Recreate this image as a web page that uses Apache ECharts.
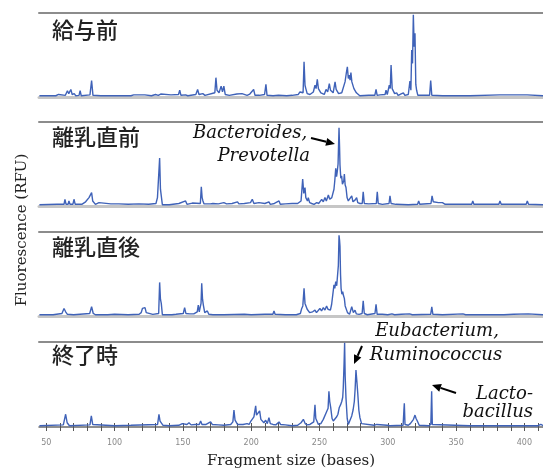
<!DOCTYPE html>
<html>
<head>
<meta charset="utf-8">
<script src="https://cdn.jsdelivr.net/npm/echarts@6/dist/echarts.min.js"></script>
<style>
  html, body { margin: 0; padding: 0; background: #fff; }
  #trflp { width: 543px; height: 474px; }
</style>
</head>
<body>
<div id="trflp"></div>
<script>
// panel titles (sampling times)
var panelNames = ['給与前', '離乳直前', '離乳直後', '終了時'];

// x axis: fragment size (bases)
var sizeLabels = [50, 100, 150, 200, 250, 300, 350, 400];
var sizeTicks = [50, 60, 70, 80, 90, 100, 110, 120, 130, 140, 150, 160, 170, 180, 190, 200,
    210, 220, 230, 240, 250, 260, 270, 280, 290, 300, 310, 320, 330, 340, 350, 360, 370,
    380, 390, 400, 410];

// traces: [fragment size, fluorescence (% of panel full scale)]
var trace1 = [[45,1.5],[57,1.5],[59,3],[60,1.5],[64,2],[65.5,7.5],[66.5,4],[68,9],[69,3],[70.5,4],[71.5,1.5],
    [74,2],[74.8,7.5],[75.6,1.5],[82,2.5],[83.2,19.5],[84.2,2],[90,1.5],[101,1.5],[102,3],[103,1.5],[112,1.5],
    [114,2.5],[115,1.5],[122.2,2.5],[123,1.5],[127,1.5],[130,3],[131.2,4],[132,2],[133.8,3.5],[134.6,1.5],
    [141.3,2.5],[142,1.5],[146.8,3],[147.7,8],[148.6,2],[152,2.5],[152.8,3.5],[153.6,1.5],[159.5,3],[160.8,9],
    [161.8,3],[164.6,4],[165.4,4],[166.2,2],[173.4,5],[174.2,23],[175,8],[176.5,5],[178,13],[179,6],[180,13],
    [181,3],[184,2],[189.5,3.5],[190.2,1.5],[193.3,4],[194,2],[197,2],[199,3.5],[201.8,9],[202.8,2],[206,2],
    [209.8,3],[210.8,15],[211.6,2],[216,1.5],[220,2],[226,1.5],[230,2],[234.5,3],[235.7,6],[238,5],[238.7,42],
    [239.4,14],[240,10],[241,4],[243,3],[245.5,6],[246.7,14],[247.5,10],[248.4,21],[249.2,10],[249.9,12],[251,5],
    [252.3,6],[253.5,3],[254.8,9],[256,6],[257.2,16],[258.1,8],[258.9,8],[260,5],[261.4,18],[262.2,9],[263,11],
    [264,4],[266.3,5],[267.5,7],[268.7,18],[269.6,28],[270.4,36],[271.1,22],[271.8,26],[272.4,20],[273,29],
    [273.7,18],[274.3,20],[275.2,10],[276,11],[277,5],[278.4,3],[279.5,1.5],[286,2],[290.5,2],[291.4,9],
    [292.2,2],[294.3,2.5],[295,1.5],[298,3],[298.7,8],[299.6,3],[301.1,14],[301.8,10],[302.4,38],[303.2,10],
    [304.1,12],[305,4],[306.5,5],[307.5,2],[309,3],[310,2],[311.4,5],[312.5,2],[315,3],[316.2,19],[316.9,8],
    [317.5,56],[318.1,40],[318.7,98],[319.3,60],[319.9,76],[320.5,15],[321.1,8],[322,2],[330.6,2],[331.4,19.5],
    [332.2,2],[340,1.5],[341,2.5],[342,1.5],[360,1.5],[381.8,2.5],[383,1.5],[402,2.5],[403,1.5],[414,1.5]];

var trace2 = [[45,1.5],[58,2],[59.3,4],[60.3,2],[63,2],[63.7,8],[64.5,2],[66,2],[66.6,6],[67.4,2],[69.5,2],
    [70.3,8],[71.2,2],[76,2],[78.8,5],[80,3],[81.3,10],[82.3,8],[83.2,16],[84,6],[85,4],[86,2],[88.6,4],[89.5,2],
    [97.3,2.5],[98,1.5],[103.2,2.5],[104,1.5],[110,2],[117.9,2.5],[125,2],[130.3,3],[131.4,10],[132.4,12],
    [133,57],[133.6,20],[134.2,12],[135,1.5],[140,1.5],[147.1,3],[148,2],[152,6],[153,2],[156.9,3.5],[158,2],
    [162.8,3],[163.5,23],[164.1,10],[164.7,6],[165.5,2.5],[170,2.5],[172,3],[176,2.5],[180,4],[182,2.5],[186,3],
    [190,5],[191,2.5],[195,3],[199.5,4],[200.8,8],[202,3],[205.7,4],[206.5,2],[210,3],[213,5],[214,2],[217,3],
    [220.4,6],[221.3,2],[225,2.5],[230,3],[234,3],[236.5,6],[237.7,32],[238.5,15],[239.4,22],[240,10],
    [240.6,8],[241.2,6],[241.8,10],[242.8,4],[244.3,3],[246,2],[248,4],[249.5,3],[251.6,8],[252.8,5],[254,10],
    [255,6],[256.5,13],[257.5,8],[259,10],[259.8,8],[260.6,20],[261.2,30],[261.9,45],[262.5,35],[263,41],
    [263.6,50],[264.3,93],[264.7,70],[265,49],[265.6,33],[266.2,36],[266.8,26],[267.4,28],[267.8,30],[268.2,38],
    [268.8,25],[269.4,22],[270.2,10],[271.1,6],[272.5,4],[273.6,12],[274.5,5],[276,7],[276.6,5],[277.2,10],
    [278,4],[279.6,3],[281.3,3],[282,17],[282.8,3],[286,2.5],[291.6,3],[292.3,17],[293,3],[296,2],[300.9,3],
    [301.6,12],[302.4,3],[306,2],[315,1.5],[321.8,2],[322.6,6],[323.4,2],[331.6,3],[332.4,12],[333.3,5],[337,4],
    [340,4],[342,2],[350,2],[361.4,2],[362.2,6],[363,2],[370,2],[381.3,2],[382.1,6],[383,2],[393.5,2],[394.3,4],
    [395,2],[401.3,2],[402.1,6],[403,2],[414,1.5]];

var trace3 = [[45,1.5],[55,1.5],[61.5,3],[63,9],[64.2,5],[65.5,2],[70,1.5],[81.8,3],[83.2,11],[84.4,3],[86,1.5],
    [95,1.5],[100,2],[110,1.5],[118,2],[119.5,4],[120.4,9],[121.3,7],[122.3,10],[123.2,4],[124.2,2],[128,2],
    [132.3,3],[133,40],[133.6,20],[134.2,15],[135,1.5],[142,1.5],[145,2],[150.3,3],[151.3,10],[152.2,3],
    [155,2.5],[158,2.5],[160.5,5],[161.3,13],[162,5],[162.5,7],[163.3,15],[163.8,39],[164.4,20],[165,13],[166,4],
    [167.9,6],[169,2],[172,1.5],[180,1.5],[195,2],[200,1.5],[210,2],[215.9,2],[216.7,6],[217.5,2],[225,1.5],
    [233,1.5],[236,3],[237,9],[237.8,12],[238.7,33],[239.4,15],[240.1,15],[241,8],[241.8,9],[242.8,4],[244,3],
    [245,5],[246.7,7],[247.8,4],[249,5],[250.3,9],[251.5,6],[252.8,10],[254,7],[255.2,12],[256.2,8],[257.2,10],
    [258,7],[258.9,14],[259.8,15],[260.6,37],[261.2,33],[261.9,41],[262.6,36],[263.3,35],[263.8,60],[264.3,96],
    [264.7,90],[265,83],[265.4,50],[265.8,33],[266.4,26],[267,29],[267.6,24],[268.2,21],[268.8,12],[269.4,10],
    [270.5,4],[272,2],[273.6,11],[274.8,4],[276,7],[277,2.5],[279,2],[281.2,3],[282,18],[282.8,3],[285,1.5],
    [290.6,3],[291.4,14],[292.2,2],[296,2],[300,1.5],[303,2.5],[305,1.5],[310,2],[316,2.5],[318,1.5],[331.4,2],
    [332.2,11],[333,2],[340,1.5],[355,2.5],[357,1.5],[385,1.5],[392,2],[402.8,2.5],[404,1.5],[414,1.5]];

var trace4 = [[45,1.5],[62.5,2.5],[64.2,15],[65.3,5],[66.1,3],[67,1.5],[82,2.5],[83,13],[84,3],[85,1.5],
    [100,1.5],[112,2],[131.5,3],[132.5,15],[133.3,7],[134.2,5],[135.5,2],[140,1.5],[147,2],[149.6,4],[151,2.5],
    [153,3],[154.5,5],[156,2.5],[159,3],[162,3],[163,7],[164,3],[167,3],[170.3,6],[171.5,3],[176,2.5],[180,2],
    [185,3],[186.6,6],[187.4,20],[188.2,8],[189.1,9],[190,3],[194,3],[197,4],[198.5,3],[199.8,7],[200.8,9],
    [202,12],[203.3,25],[203.9,14],[204.5,16],[205.3,12],[206.2,19],[207.1,9],[208.1,9],[209.3,5],[210.6,8],
    [211.8,4],[213,11],[214,4],[216,3],[218,2.5],[220.4,6],[221.5,3],[225,2.5],[230,1.5],[234,2],[236.5,5],
    [238.2,9],[239.5,4],[241,2.5],[243,3],[245.8,6],[246.7,26],[247.3,10],[248,9],[249.2,3],[251,4],[252.8,9],
    [254,10],[255.2,18],[256.3,22],[256.9,42],[257.5,30],[258.2,23],[259.2,10],[260.1,7],[261.5,9],[262.6,12],
    [263.5,15],[264.5,23],[265.4,26],[266.3,30],[267,35],[267.4,46],[268,75],[268.4,99],[268.8,60],[269.4,34],
    [270.3,10],[271.1,3],[272.5,5],[273.6,13],[274.6,20],[275.5,30],[276.1,45],[276.7,67],[277.3,55],[278,40],
    [278.8,20],[279.6,11],[280.8,4],[282,2],[290,2],[291.9,3],[293,1.5],[299.5,2],[300.4,4],[301.5,1.5],
    [311.2,2],[311.8,20],[312.1,28],[312.6,3],[315,2],[316.5,4],[317.5,5],[318.8,9],[319.9,14],[320.7,10],
    [321.6,7],[323,2],[330,1.5],[331.5,3],[332.1,42],[332.6,3],[334,1.5],[360,1.5],[410,1.5],[412,3],[413,1.5],
    [414,1.5]];

var traces = [trace1, trace2, trace3, trace4];

function arrow(x1, y1, x2, y2){
    var a = Math.atan2(y2 - y1, x2 - x1);
    var len = 9, half = 4;
    var bx = x2 - len * Math.cos(a), by = y2 - len * Math.sin(a);
    return [
        {type: 'line', silent: true,
         shape: {x1: x1, y1: y1, x2: bx, y2: by},
         style: {stroke: '#000', lineWidth: 2}},
        {type: 'polygon', silent: true,
         shape: {points: [[x2, y2],
             [bx + half * Math.sin(a), by - half * Math.cos(a)],
             [bx - half * Math.sin(a), by + half * Math.cos(a)]]},
         style: {fill: '#000'}}
    ];
}

function trflpChart(){
    var panelTop = [13, 122, 232, 342];
    var panelHeight = [84, 84, 84, 85];
    var labelY = [31, 138, 248, 356];
    var xMin = 44.7, xMax = 413.6;

    var grid = [], xAxis = [], yAxis = [], series = [], graphic = [];

    for (var i = 0; i < 4; i++) {
        grid.push({left: 39, right: 0, top: panelTop[i], height: panelHeight[i]});
        yAxis.push({type: 'value', gridIndex: i, min: 0, max: 100, show: false});

        var last = (i === 3);
        // baseline / size axis
        xAxis.push({
            type: 'value', gridIndex: i, position: 'bottom', min: xMin, max: xMax,
            axisLine: {show: true, onZero: false,
                lineStyle: last ? {color: '#6a6a6a', width: 1.5} : {color: '#c6c6c6', width: 3}},
            axisTick: {show: last, inside: false, length: 4, customValues: sizeTicks,
                lineStyle: {color: '#555', width: 1}},
            axisLabel: {show: last, customValues: sizeLabels, margin: 12,
                fontSize: 8, color: '#888', fontFamily: 'DejaVu Sans'},
            splitLine: {show: false},
            name: last ? 'Fragment size (bases)' : '',
            nameLocation: 'middle', nameGap: 27,
            nameTextStyle: {fontFamily: 'DejaVu Serif', fontSize: 15, color: '#222'}
        });
        // top separator line
        xAxis.push({
            type: 'value', gridIndex: i, position: 'top', min: xMin, max: xMax,
            axisLine: {show: true, onZero: false, lineStyle: {color: '#8c8c8c', width: 2}},
            axisTick: {show: false}, axisLabel: {show: false}, splitLine: {show: false}
        });

        series.push({
            type: 'line', name: panelNames[i], xAxisIndex: i * 2, yAxisIndex: i,
            data: traces[i], showSymbol: false, symbol: 'none', animation: false,
            lineStyle: {color: '#3f62b8', width: 1.4}
        });

        graphic.push({
            type: 'text', left: 52, top: labelY[i] - 12,
            style: {text: panelNames[i], fontSize: 22, fontFamily: 'Noto Sans CJK JP',
                fontWeight: 500, fill: '#222'}
        });
    }

    // inward half of the size ticks
    xAxis.push({
        type: 'value', gridIndex: 3, position: 'bottom', min: xMin, max: xMax,
        axisLine: {show: false, onZero: false},
        axisTick: {show: true, inside: true, length: 4, customValues: sizeTicks,
            lineStyle: {color: '#555', width: 1}},
        axisLabel: {show: false}, splitLine: {show: false}
    });

    var italic = {fontFamily: 'DejaVu Serif', fontStyle: 'italic', fontSize: 18, fill: '#111'};
    function note(x, y, text, align){
        return {type: 'text', silent: true,
            style: Object.assign({x: x, y: y, text: text, align: align, verticalAlign: 'middle'}, italic)};
    }

    graphic.push(
        {type: 'text', silent: true, rotation: Math.PI / 2, x: 22, y: 230,
         style: {x: 0, y: 0, text: 'Fluorescence (RFU)', align: 'center', verticalAlign: 'middle',
             fontFamily: 'DejaVu Serif', fontSize: 15, fill: '#222'}},
        note(193, 133, 'Bacteroides,', 'left'),
        note(310, 156, 'Prevotella', 'right'),
        note(437, 331, 'Eubacterium,', 'center'),
        note(436, 355, 'Ruminococcus', 'center'),
        note(533, 394, 'Lacto-', 'right'),
        note(533, 412, 'bacillus', 'right')
    );
    graphic = graphic.concat(arrow(311, 138, 335, 144), arrow(362, 346, 354, 364), arrow(456, 393, 432, 385));

    var trflpOption = {
        backgroundColor: '#fff',
        animation: false,
        grid: grid,
        xAxis: xAxis,
        yAxis: yAxis,
        series: series,
        graphic: graphic
    };

    var trflp = echarts.init(document.getElementById('trflp'));
    trflp.setOption(trflpOption);
}

trflpChart();
</script>
</body>
</html>
